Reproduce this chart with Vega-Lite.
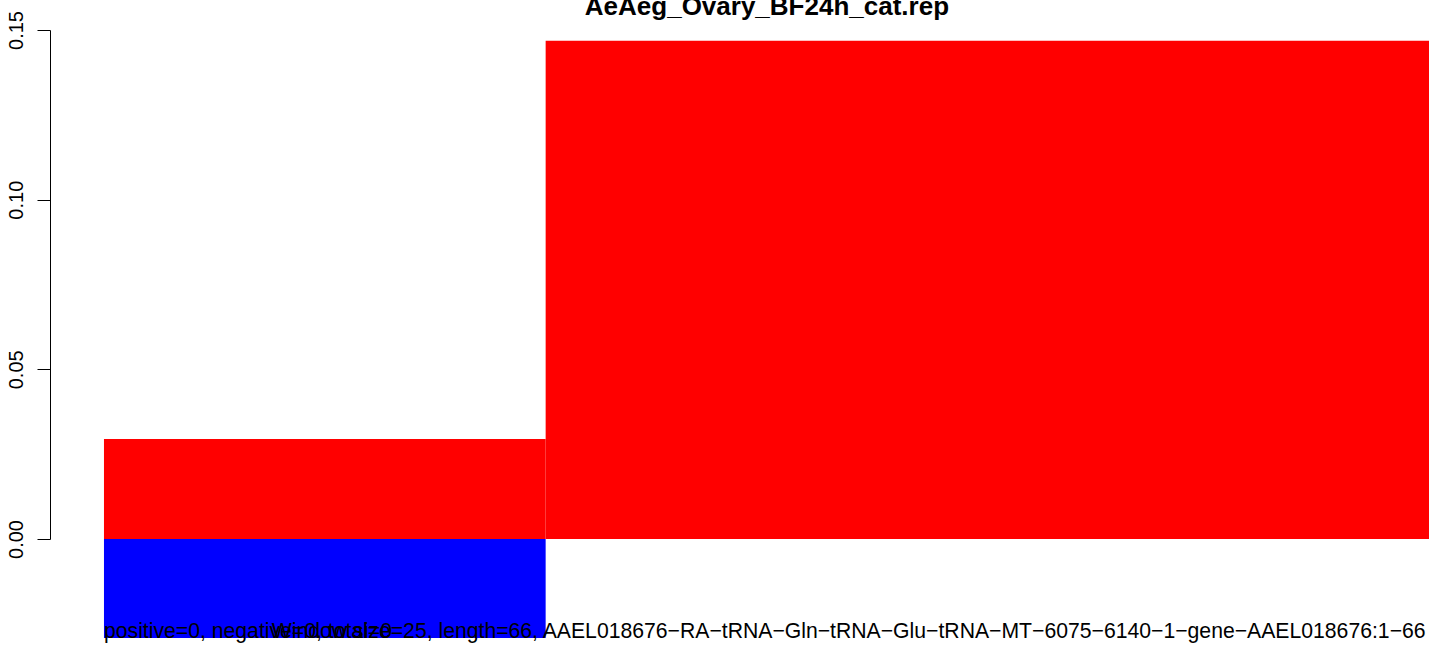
{
  "$schema": "https://vega.github.io/schema/vega-lite/v6.json",
  "width": 1379,
  "height": 509,
  "autosize": {"type": "none"},
  "padding": {"left": 50, "top": 30, "right": 0, "bottom": 111},
  "background": "white",
  "config": {
    "view": {"stroke": null},
    "font": "Liberation Sans"
  },
  "layer": [
    {
      "data": {
        "values": [
          {"start": 0, "end": 1, "value": 0.0295, "col": "red"},
          {"start": 0, "end": 1, "value": -0.0292, "col": "blue"},
          {"start": 1, "end": 3, "value": 0.1468, "col": "red"}
        ]
      },
      "mark": {"type": "rect"},
      "encoding": {
        "x": {
          "field": "start",
          "type": "quantitative",
          "scale": {"domain": [-0.1222, 3], "nice": false, "zero": false},
          "axis": null
        },
        "x2": {"field": "end"},
        "y": {
          "field": "value",
          "type": "quantitative",
          "scale": {"domain": [0, 0.15], "nice": false, "zero": false},
          "axis": {
            "title": null,
            "values": [0, 0.05, 0.1, 0.15],
            "format": ".2f",
            "grid": false,
            "domainColor": "black",
            "domainWidth": 1,
            "tickColor": "black",
            "tickWidth": 1,
            "tickSize": 13,
            "labelAngle": -90,
            "labelAlign": "center",
            "labelBaseline": "alphabetic",
            "labelPadding": 15,
            "labelFont": "Liberation Sans",
            "labelFontSize": 20,
            "labelColor": "black",
            "labelFlush": false,
            "labelOverlap": false
          }
        },
        "y2": {"datum": 0},
        "color": {
          "field": "col",
          "type": "nominal",
          "scale": {"domain": ["red", "blue"], "range": ["#ff0000", "#0000ff"]},
          "legend": null
        }
      }
    },
    {
      "data": {"values": [{"label": "AeAeg_Ovary_BF24h_cat.rep"}]},
      "mark": {"type": "text", "align": "center", "baseline": "alphabetic", "font": "Liberation Sans", "fontSize": 26, "fontWeight": "bold", "color": "black"},
      "encoding": {
        "x": {"datum": 1.501},
        "y": {"datum": 0.1544},
        "text": {"field": "label"}
      }
    },
    {
      "data": {"values": [{"label": "positive=0, negative=0, total=0"}]},
      "mark": {"type": "text", "align": "left", "baseline": "alphabetic", "font": "Liberation Sans", "fontSize": 21.2, "color": "black"},
      "encoding": {
        "x": {"datum": 0},
        "y": {"datum": -0.0292},
        "text": {"field": "label"}
      }
    },
    {
      "data": {"values": [{"label": "Window size=25, length=66, AAEL018676−RA−tRNA−Gln−tRNA−Glu−tRNA−MT−6075−6140−1−gene−AAEL018676:1−66"}]},
      "mark": {"type": "text", "align": "left", "baseline": "alphabetic", "font": "Liberation Sans", "fontSize": 21.2, "color": "black"},
      "encoding": {
        "x": {"datum": 0.38},
        "y": {"datum": -0.0292},
        "text": {"field": "label"}
      }
    }
  ]
}
